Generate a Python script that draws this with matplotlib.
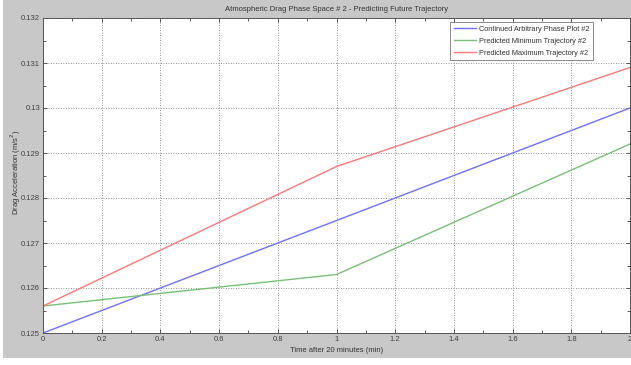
import matplotlib.pyplot as plt
from matplotlib.patches import Rectangle
from matplotlib.ticker import MultipleLocator

time_min = [0.0, 1.0, 2.0]
arbitrary_plot = [0.1250, 0.1275, 0.1300]
minimum_trajectory = [0.1256, 0.1263, 0.1292]
maximum_trajectory = [0.1256, 0.1287, 0.1309]

series_labels = [
    "Continued Arbitrary Phase Plot #2",
    "Predicted Minimum Trajectory #2",
    "Predicted Maximum Trajectory #2",
]
x_ticks = [0, 0.2, 0.4, 0.6, 0.8, 1, 1.2, 1.4, 1.6, 1.8, 2]
y_ticks = [0.125, 0.126, 0.127, 0.128, 0.129, 0.13, 0.131, 0.132]

plt.rcParams["font.family"] = ["Liberation Sans", "DejaVu Sans"]

figure = plt.figure(figsize=(6.31, 3.65), dpi=100, facecolor="white")
# grey window background of the screenshot
figure.patches.append(
    Rectangle(
        (3 / 631, 1 - 358 / 365), 1.0, 358 / 365,
        transform=figure.transFigure, facecolor="#c8c8c8",
        edgecolor="none", zorder=-10,
    )
)

axis = figure.add_axes([43 / 631, 32 / 365, 587 / 631, 315 / 365])
axis.set_zorder(5)
axis.set_facecolor("white")

axis.plot(time_min, arbitrary_plot, color="#7070ff", lw=1.0, label=series_labels[0])
axis.plot(time_min, minimum_trajectory, color="#78c078", lw=1.0, label=series_labels[1])
axis.plot(time_min, maximum_trajectory, color="#ff7878", lw=1.0, label=series_labels[2])

axis.set_xlim(0, 2)
axis.set_ylim(0.125, 0.132)
axis.set_xticks(x_ticks, labels=[f"{v:g}" for v in x_ticks])
axis.set_yticks(y_ticks, labels=[f"{v:g}" for v in y_ticks])
axis.xaxis.set_minor_locator(MultipleLocator(0.1))
axis.yaxis.set_minor_locator(MultipleLocator(0.0005))
axis.tick_params(
    which="both", direction="in", top=True, right=True,
    labelsize=5.5, colors="#404040", length=3, width=0.6, pad=2,
)
axis.tick_params(which="minor", length=2)
axis.grid(True, which="major", linestyle=(0, (1, 2)), color="#707070", linewidth=0.6)

for spine in axis.spines.values():
    spine.set_color("#555555")
    spine.set_linewidth(0.7)

axis.set_title(
    "Atmospheric Drag Phase Space # 2 - Predicting Future Trajectory",
    fontsize=5.5, color="#333333", pad=5,
)
axis.set_xlabel("Time after 20 minutes (min)", fontsize=5.5, color="#333333", labelpad=3)
axis.set_ylabel("Drag Acceleration (m/s$^2$)", fontsize=5.5, color="#333333")
axis.yaxis.set_label_coords(-0.034, 0.51)

legend = axis.legend(
    loc="upper right", fontsize=5.3, frameon=True, fancybox=False,
    edgecolor="#555555", handlelength=3.0, handletextpad=0.4,
    borderpad=0.5, labelspacing=0.65, borderaxespad=0,
    bbox_to_anchor=(0.937, 0.987),
)
legend.get_frame().set_linewidth(0.6)
for text in legend.get_texts():
    text.set_color("#333333")

figure.savefig("out.png", dpi=100, facecolor=figure.get_facecolor())
